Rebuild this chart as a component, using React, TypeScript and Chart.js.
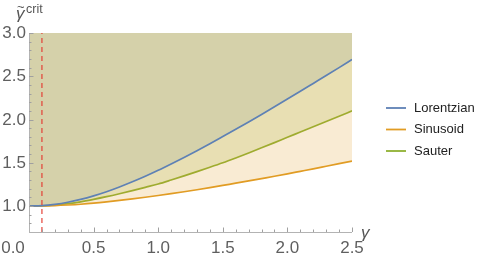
import React, { useEffect, useRef } from "react";
import { Chart, registerables } from "chart.js";

Chart.register(...registerables);

const gammaValues = [0, 0.1, 0.2, 0.3, 0.4, 0.5, 0.6, 0.7, 0.8, 0.9, 1.0, 1.1, 1.2, 1.3, 1.4, 1.5, 1.6, 1.7, 1.8, 1.9, 2.0, 2.1, 2.2, 2.3, 2.4, 2.5];
const lorentzian = [1.0, 1.005, 1.02, 1.044, 1.077, 1.118, 1.166, 1.221, 1.281, 1.345, 1.414, 1.487, 1.562, 1.64, 1.72, 1.803, 1.887, 1.972, 2.059, 2.147, 2.236, 2.326, 2.417, 2.508, 2.6, 2.693];
const sinusoid = [1.0, 1.001, 1.005, 1.012, 1.021, 1.033, 1.048, 1.065, 1.083, 1.102, 1.122, 1.143, 1.165, 1.188, 1.212, 1.238, 1.264, 1.29, 1.317, 1.344, 1.372, 1.401, 1.43, 1.46, 1.49, 1.52];
const sauter = [1.0, 1.003, 1.012, 1.028, 1.049, 1.077, 1.108, 1.142, 1.178, 1.216, 1.255, 1.301, 1.349, 1.398, 1.448, 1.5, 1.556, 1.614, 1.673, 1.733, 1.795, 1.855, 1.916, 1.977, 2.038, 2.1];
const seriesNames = ["Lorentzian", "Sinusoid", "Sauter"];
const markerGamma = 0.1;
const markerRange = [0.7, 3.0];
const xTickLabels = ["0.0", "0.5", "1.0", "1.5", "2.0", "2.5"];
const yTickLabels = ["1.0", "1.5", "2.0", "2.5", "3.0"];

const lineColors = ["#5E81B5", "#E19C24", "#8FB032"];
const fillColors = ["rgba(135,148,131,0.2)", "rgba(225,156,36,0.2)", "rgba(143,176,50,0.2)"];

const decorPlugin = {
  id: "decor",
  afterDraw(chart: any) {
    const ctx = chart.ctx;
    const xs = chart.scales.x;
    const ys = chart.scales.y;
    const left = chart.chartArea.left;
    const bottom = chart.chartArea.bottom;
    const right = chart.chartArea.right;
    const top = chart.chartArea.top;
    ctx.save();
    // axes lines
    ctx.strokeStyle = "#b3b3b3";
    ctx.lineWidth = 1;
    ctx.beginPath();
    ctx.moveTo(left + 0.5, bottom);
    ctx.lineTo(left + 0.5, top);
    ctx.moveTo(left, bottom + 0.5);
    ctx.lineTo(right, bottom + 0.5);
    ctx.stroke();
    // y ticks
    ctx.strokeStyle = "#a0a0a0";
    ctx.beginPath();
    for (let i = 8; i <= 30; i++) {
      const v = i / 10;
      const major = i % 5 === 0;
      const py = Math.round(ys.getPixelForValue(v)) + 0.5;
      ctx.moveTo(left, py);
      ctx.lineTo(left + (major ? 4.5 : 2.5), py);
    }
    for (let i = 1; i <= 25; i++) {
      const v = i / 10;
      const major = i % 5 === 0;
      const px = Math.round(xs.getPixelForValue(v)) + 0.5;
      ctx.moveTo(px, bottom);
      ctx.lineTo(px, bottom - (major ? 4.5 : 2.5));
    }
    ctx.stroke();
    // tick labels
    ctx.fillStyle = "#5f5f5f";
    ctx.font = "17px 'Liberation Sans', Arial, sans-serif";
    ctx.textAlign = "right";
    ctx.textBaseline = "middle";
    yTickLabels.forEach((t) => {
      ctx.fillText(t, left - 3, ys.getPixelForValue(parseFloat(t)) + 0.5);
    });
    ctx.textAlign = "center";
    ctx.textBaseline = "alphabetic";
    xTickLabels.forEach((t, i) => {
      let px = xs.getPixelForValue(parseFloat(t));
      if (i === 0) px -= 16;
      ctx.fillText(t, px, bottom + 20.5);
    });
    // axis titles
    ctx.fillStyle = "#555";
    ctx.textAlign = "left";
    ctx.font = "italic 17px 'Liberation Sans', Arial, sans-serif";
    ctx.fillText("γ", 16, 19);
    ctx.fillText("γ", 361, 238);
    ctx.font = "13px 'Liberation Sans', Arial, sans-serif";
    ctx.textBaseline = "middle";
    ctx.fillText("~", 17, 7);
    ctx.textBaseline = "alphabetic";
    ctx.font = "12.5px 'Liberation Sans', Arial, sans-serif";
    ctx.fillText("crit", 26, 13);
    // legend
    const ly = [108, 129.5, 151];
    ctx.font = "13px 'Liberation Sans', Arial, sans-serif";
    ctx.textBaseline = "middle";
    seriesNames.forEach((n, i) => {
      ctx.strokeStyle = lineColors[i];
      ctx.lineWidth = 1.8;
      ctx.beginPath();
      ctx.moveTo(386, ly[i]);
      ctx.lineTo(406, ly[i]);
      ctx.stroke();
      ctx.fillStyle = "#222";
      ctx.fillText(n, 414, ly[i]);
    });
    ctx.restore();
  },
};

export default function App() {
  const ref = useRef<HTMLCanvasElement | null>(null);
  useEffect(() => {
    document.body.style.margin = "0";
    const series = [lorentzian, sinusoid, sauter];
    const datasets: any[] = [
      {
        label: "marker",
        data: markerRange.map((y) => ({ x: markerGamma, y })),
        borderColor: "rgba(228,62,52,0.9)",
        borderWidth: 1.3,
        borderDash: [5, 4],
        pointRadius: 0,
        fill: false,
      },
      ...series.map((s, i) => ({
        label: seriesNames[i],
        data: gammaValues.map((g, j) => ({ x: g, y: s[j] })),
        borderColor: lineColors[i],
        backgroundColor: fillColors[i],
        borderWidth: 1.7,
        pointRadius: 0,
        cubicInterpolationMode: "monotone",
        fill: "end",
      })),
    ];
    const chart = new Chart(ref.current as HTMLCanvasElement, {
      type: "line",
      data: { datasets },
      options: {
        animation: false,
        responsive: false,
        layout: { padding: { left: 29, right: 130, top: 33, bottom: 29 } },
        plugins: { legend: { display: false }, tooltip: { enabled: false } },
        scales: {
          x: { type: "linear", min: 0, max: 2.5, display: false },
          y: { type: "linear", min: 0.7, max: 3.0, display: false },
        },
      },
      plugins: [decorPlugin],
    });
    return () => chart.destroy();
  }, []);
  return (
    <div style={{ width: 482, height: 261 }}>
      <canvas ref={ref} width={482} height={261} style={{ display: "block" }} />
    </div>
  );
}
